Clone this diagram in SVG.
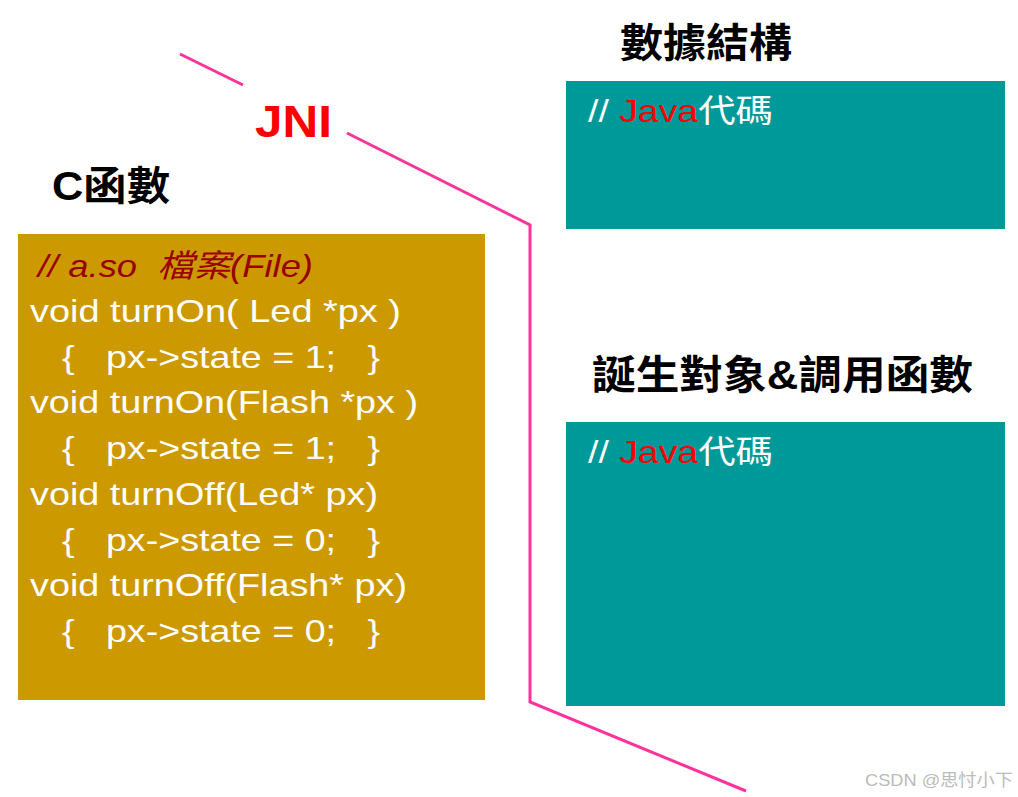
<svg xmlns="http://www.w3.org/2000/svg" width="1018" height="797" viewBox="0 0 1018 797">
<style>
.t{font-family:"Liberation Sans","Noto Sans CJK TC",sans-serif;}
.h{font-family:"Liberation Sans","Noto Sans CJK TC",sans-serif;font-weight:bold;font-size:40px;fill:#000;}
.code{font-family:"Liberation Sans","Noto Sans CJK TC",sans-serif;font-size:32px;fill:#fff;white-space:pre;}
.java{font-family:"Liberation Sans","Noto Sans CJK TC",sans-serif;font-size:32px;fill:#fff;}
.link{fill:none;stroke:#FF3399;stroke-width:3;}
</style>
<rect width="1018" height="797" fill="#fff"/>
<g id="connectors">
<line class="link" x1="180" y1="54" x2="243" y2="85"/>
<polyline class="link" points="347,133 530,225 530,702 746,791"/>
</g>
<g id="jni-label">
<text class="t" x="255" y="137" font-size="44" font-weight="bold" fill="#FF0000" textLength="77" lengthAdjust="spacingAndGlyphs">JNI</text>
</g>
<g id="c-functions">
<text class="h" x="52" y="200" textLength="118" lengthAdjust="spacingAndGlyphs">C函數</text>
<rect x="18" y="234" width="467" height="466" fill="#CC9900"/>
<text class="t" x="38" y="277" font-size="32" font-style="italic" fill="#990000" xml:space="preserve" textLength="275" lengthAdjust="spacingAndGlyphs">// a.so  檔案(File)</text>
<text class="code" x="30" y="322" xml:space="preserve" textLength="371" lengthAdjust="spacingAndGlyphs">void turnOn( Led *px )</text>
<text class="code" x="62" y="368" xml:space="preserve" textLength="318" lengthAdjust="spacingAndGlyphs">{   px-&gt;state = 1;   }</text>
<text class="code" x="30" y="413" xml:space="preserve" textLength="388" lengthAdjust="spacingAndGlyphs">void turnOn(Flash *px )</text>
<text class="code" x="62" y="459" xml:space="preserve" textLength="318" lengthAdjust="spacingAndGlyphs">{   px-&gt;state = 1;   }</text>
<text class="code" x="30" y="505" xml:space="preserve" textLength="348" lengthAdjust="spacingAndGlyphs">void turnOff(Led* px)</text>
<text class="code" x="62" y="551" xml:space="preserve" textLength="318" lengthAdjust="spacingAndGlyphs">{   px-&gt;state = 0;   }</text>
<text class="code" x="30" y="596" xml:space="preserve" textLength="377" lengthAdjust="spacingAndGlyphs">void turnOff(Flash* px)</text>
<text class="code" x="62" y="642" xml:space="preserve" textLength="318" lengthAdjust="spacingAndGlyphs">{   px-&gt;state = 0;   }</text>
</g>
<g id="data-structure">
<text class="h" x="620" y="57" textLength="172" lengthAdjust="spacingAndGlyphs">數據結構</text>
<rect x="566" y="81" width="439" height="148" fill="#009999"/>
<text class="java" x="588" y="122" textLength="185" lengthAdjust="spacingAndGlyphs">// <tspan fill="#FF0000">Java</tspan>代碼</text>
</g>
<g id="create-call">
<text class="h" x="592" y="389" textLength="381" lengthAdjust="spacingAndGlyphs">誕生對象&amp;調用函數</text>
<rect x="566" y="422" width="439" height="284" fill="#009999"/>
<text class="java" x="588" y="463" textLength="185" lengthAdjust="spacingAndGlyphs">// <tspan fill="#FF0000">Java</tspan>代碼</text>
</g>
<text class="t" x="865" y="786" font-size="17" fill="#BBBBBB" textLength="148" lengthAdjust="spacingAndGlyphs">CSDN @思忖小下</text>
</svg>
